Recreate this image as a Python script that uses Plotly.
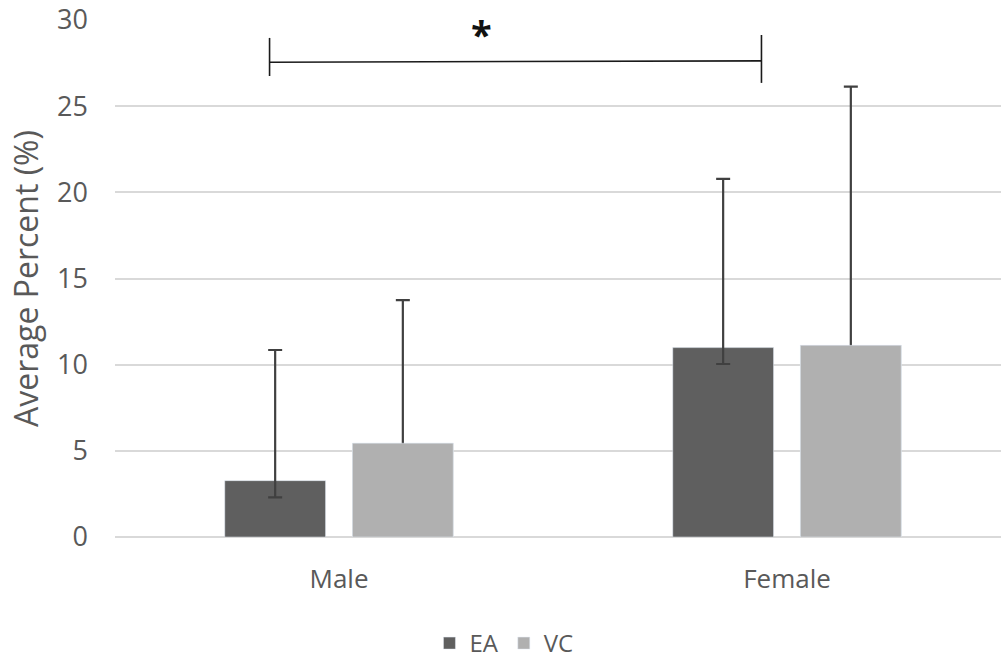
import plotly.graph_objects as go

categories = ["Male", "Female"]
ea_values = [3.27, 10.99]
ea_err_plus = [7.58, 9.79]
ea_err_minus = [0.97, 0.95]
vc_values = [5.44, 11.12]
vc_err_plus = [8.31, 15.01]
vc_err_minus = [0.5, 0.5]
y_ticks = [0, 5, 10, 15, 20, 25, 30]

# significance bracket (data coordinates)
bracket_x = [-0.155, 0.943]
bracket_y = 27.55
bracket_left_y = [26.75, 28.96]
bracket_right_y = [26.35, 29.13]
star_pos = (0.318, 29.2)

BAR_W = 0.225
GAP = 0.06
FONT = "Open Sans"
TXT = "#595959"
ERR = "#404040"

fig = go.Figure()
fig.add_trace(go.Bar(
    x=categories, y=ea_values, name="EA", marker_color="#5f5f5f",
    width=BAR_W, offset=-(BAR_W + GAP / 2),
    error_y=dict(type="data", array=ea_err_plus, arrayminus=ea_err_minus,
                 symmetric=False, color=ERR, thickness=2.2, width=7),
))
fig.add_trace(go.Bar(
    x=categories, y=vc_values, name="VC", marker_color="#b0b0b0",
    width=BAR_W, offset=GAP / 2, showlegend=False,
    error_y=dict(type="data", array=vc_err_plus, arrayminus=vc_err_minus,
                 symmetric=False, color=ERR, thickness=2.2, width=7),
))
fig.add_trace(go.Bar(
    x=categories, y=vc_values, name="VC", marker_color="#b0b0b0",
    width=BAR_W, offset=GAP / 2,
))

line = dict(color="#1a1a1a", width=1.6)
fig.add_shape(type="line", x0=bracket_x[0], x1=bracket_x[1], y0=bracket_y, y1=bracket_y + 0.08, line=line)
fig.add_shape(type="line", x0=bracket_x[0], x1=bracket_x[0], y0=bracket_left_y[0], y1=bracket_left_y[1], line=line)
fig.add_shape(type="line", x0=bracket_x[1], x1=bracket_x[1], y0=bracket_right_y[0], y1=bracket_right_y[1], line=line)
fig.add_annotation(x=star_pos[0], y=star_pos[1], text="<b>*</b>", showarrow=False,
                   font=dict(family=FONT, size=38, color="#111111"), yanchor="middle")

fig.update_layout(
    width=1001, height=660,
    margin=dict(l=115, r=0, t=20, b=123, autoexpand=False),
    plot_bgcolor="white", paper_bgcolor="white",
    barmode="overlay",
    font=dict(family=FONT, size=24, color=TXT),
    showlegend=True,
    legend=dict(orientation="h", x=0.439, xanchor="center", y=-0.206, yanchor="middle",
                font=dict(size=24, color=TXT), itemwidth=30, traceorder="normal"),
    xaxis=dict(range=[-0.5, 1.4777], showgrid=False, showline=False, zeroline=False,
               automargin=False,
               ticks="", tickfont=dict(size=26, color=TXT), ticklabelstandoff=24),
    yaxis=dict(range=[0, 30], tickmode="array", tickvals=y_ticks, automargin=False,
               showgrid=True, gridcolor="#d9d9d9", gridwidth=1.5,
               zeroline=True, zerolinecolor="#d9d9d9", zerolinewidth=1.5,
               showline=False, ticks="", tickfont=dict(size=27, color=TXT),
               ticklabelstandoff=26,
               title=dict(text="Average Percent (%)", font=dict(size=32, color=TXT), standoff=8)),
)

fig.write_html("out.html", config={"displayModeBar": False},
               post_script="document.body.style.margin='0';")
